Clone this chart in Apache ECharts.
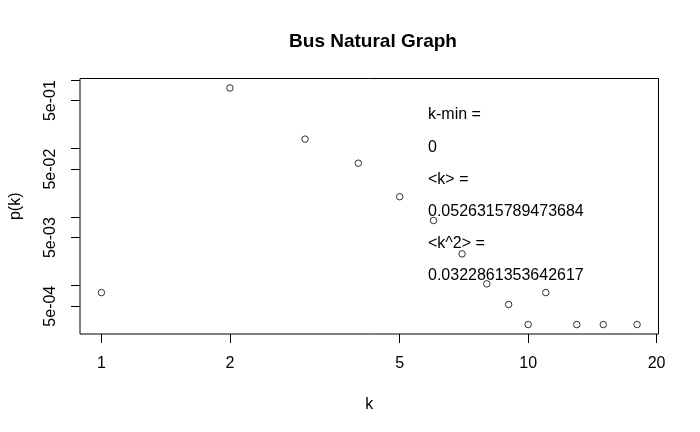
<!DOCTYPE html>
<html>
<head>
<meta charset="utf-8">
<script src="https://cdn.jsdelivr.net/npm/echarts@6/dist/echarts.min.js"></script>
<style>
  html, body { margin: 0; padding: 0; background: #fff; }
  #main { width: 700px; height: 432px; }
</style>
</head>
<body>
<div id="main"></div>
<script>
// degree k and its share p(k)
const degrees = [1, 2, 3, 4, 5, 6, 7, 8, 9, 10, 11, 13, 15, 18];
const probs = [0.00079, 0.764, 0.137, 0.061, 0.0198, 0.0089, 0.0029, 0.00106, 0.00053, 0.00027, 0.00079, 0.00027, 0.00027, 0.00027];

const xTicks = [1, 2, 5, 10, 20];
const yTicks = [1, 0.5, 0.1, 0.05, 0.01, 0.005, 0.001, 0.0005];
const yLabels = [0.5, 0.05, 0.005, 0.0005];

const notes = ["k-min =", "0", "<k> =", "0.0526315789473684", "<k^2> =", "0.0322861353642617"];

const FONT = "Liberation Sans, Arial, sans-serif";

// R pads log axes 4% each side
function padLog(lo, hi) {
  const a = Math.log10(lo), b = Math.log10(hi);
  const d = (b - a) * 0.04;
  return [Math.pow(10, a - d), Math.pow(10, b + d)];
}
const xr = padLog(Math.min(...degrees), Math.max(...degrees));
const yr = padLog(Math.min(...probs), Math.max(...probs));

function sci(v) {
  const s = v.toExponential(0); // e.g. 5e-4
  const m = s.split("e");
  const e = parseInt(m[1], 10);
  const ee = (e < 0 ? "-" : "+") + String(Math.abs(e)).padStart(2, "0");
  return m[0] + "e" + ee;
}

const chart = echarts.init(document.getElementById("main"));

chart.setOption({
  animation: false,
  backgroundColor: "#fff",
  title: {
    text: "Bus Natural Graph",
    left: 368,
    top: 27,
    textAlign: "center",
    textStyle: { fontFamily: FONT, fontSize: 19, fontWeight: "bold", color: "#000" }
  },
  grid: {
    left: 78.5, right: 41.5, top: 78.5, bottom: 98,
    show: true, borderColor: "#000", borderWidth: 1, backgroundColor: "transparent"
  },
  xAxis: {
    type: "log",
    min: xr[0],
    max: xr[1],
    name: "k",
    nameLocation: "middle",
    nameGap: 63,
    nameTextStyle: { fontFamily: FONT, fontSize: 16, color: "#000", verticalAlign: "top" },
    axisLine: { show: false },
    splitLine: { show: false },
    axisTick: { show: true, inside: false, length: 9, customValues: xTicks, lineStyle: { color: "#000" } },
    axisLabel: {
      customValues: xTicks,
      margin: 22,
      fontFamily: FONT, fontSize: 16, color: "#000",
      formatter: v => String(Math.round(v))
    }
  },
  yAxis: {
    type: "log",
    min: yr[0],
    max: yr[1],
    name: "p(k)",
    nameLocation: "middle",
    nameGap: 56,
    nameRotate: 90,
    nameTextStyle: { fontFamily: FONT, fontSize: 16, color: "#000" },
    axisLine: { show: false },
    splitLine: { show: false },
    axisTick: { show: true, inside: false, length: 9, customValues: yTicks, lineStyle: { color: "#000" } },
    axisLabel: {
      customValues: yLabels,
      rotate: 90,
      margin: 21,
      fontFamily: FONT, fontSize: 16, color: "#000",
      formatter: v => sci(v)
    }
  },
  graphic: notes.map((t, i) => ({
    type: "text",
    left: 428,
    top: 107 + i * 32.1,
    style: { text: t, fontFamily: FONT, fontSize: 16, fill: "#000" }
  })),
  series: [{
    type: "scatter",
    data: degrees.map((k, i) => [k, probs[i]]),
    symbol: "circle",
    symbolSize: 6.5,
    itemStyle: { color: "#fff", borderColor: "#000", borderWidth: 1 }
  }]
});
</script>
</body>
</html>
